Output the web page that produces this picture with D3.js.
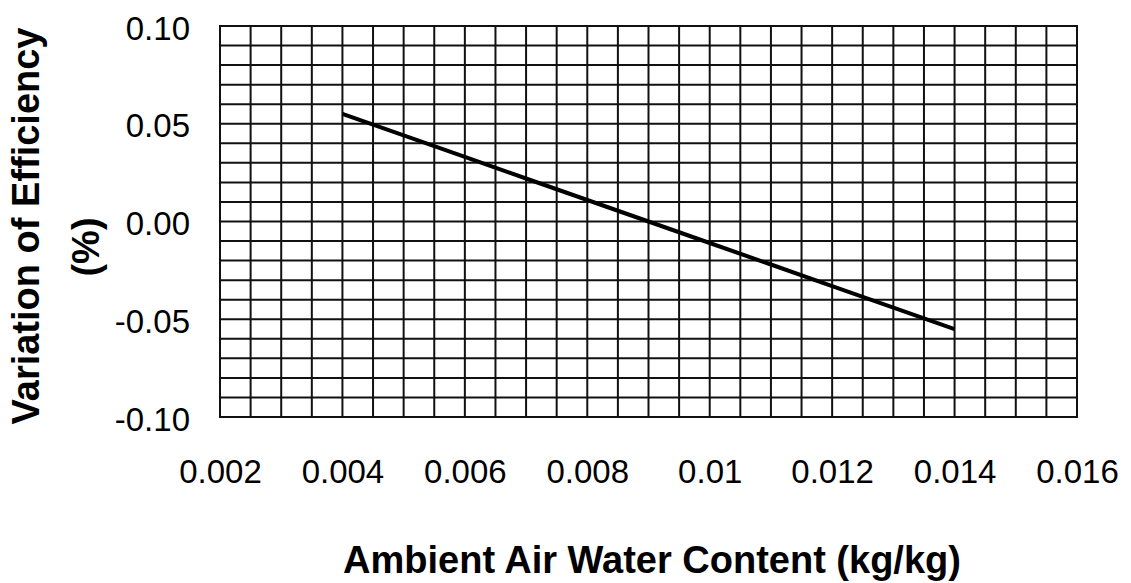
<!DOCTYPE html>
<html>
<head>
<meta charset="utf-8">
<script src="https://cdn.jsdelivr.net/npm/d3@7"></script>
<style>
  html, body { margin: 0; padding: 0; background: #fff; }
  svg { display: block; font-family: "Liberation Sans", Arial, sans-serif; }
</style>
</head>
<body>
<svg id="chart" width="1131" height="583"></svg>
<script>
// Water content of ambient air (kg/kg) and resulting efficiency variation (%)
const waterContent = [0.004, 0.005, 0.006, 0.007, 0.008, 0.009, 0.010, 0.011, 0.012, 0.013, 0.014];
const efficiencyVariation = [0.055, 0.044, 0.033, 0.022, 0.011, 0.000, -0.011, -0.022, -0.033, -0.044, -0.055];

const xTickValues = [0.002, 0.004, 0.006, 0.008, 0.010, 0.012, 0.014, 0.016];
const xTickLabels = ["0.002", "0.004", "0.006", "0.008", "0.01", "0.012", "0.014", "0.016"];
const yTickValues = [0.10, 0.05, 0.00, -0.05, -0.10];
const yTickLabels = ["0.10", "0.05", "0.00", "-0.05", "-0.10"];

const xTitle = "Ambient Air Water Content (kg/kg)";
const yTitleLines = ["Variation of Efficiency", "(%)"];

const svg = d3.select("#chart");
const plot = { left: 220, right: 1077, top: 26, bottom: 417 };
const font = "'Liberation Sans', Arial, sans-serif";

const x = d3.scaleLinear().domain([0.002, 0.016]).range([plot.left, plot.right]);
const y = d3.scaleLinear().domain([-0.10, 0.10]).range([plot.bottom, plot.top]);

// Grid: vertical every 0.0005, horizontal every 0.01
const xGrid = d3.range(0, 29).map(i => 0.002 + i * 0.0005);
const yGrid = d3.range(0, 21).map(i => -0.10 + i * 0.01);

const grid = svg.append("g").attr("stroke", "#111").attr("stroke-width", 2);
grid.selectAll("line.v").data(xGrid).join("line")
  .attr("class", "v")
  .attr("x1", d => x(d)).attr("x2", d => x(d))
  .attr("y1", plot.top - 1).attr("y2", plot.bottom + 1);
grid.selectAll("line.h").data(yGrid).join("line")
  .attr("class", "h")
  .attr("x1", plot.left - 1).attr("x2", plot.right + 1)
  .attr("y1", d => y(d)).attr("y2", d => y(d));

// Axes (labels only; the grid already frames the plot)
const xAxis = d3.axisBottom(x).tickValues(xTickValues)
  .tickFormat((d, i) => xTickLabels[i]).tickSize(0).tickPadding(0);
const gx = svg.append("g").attr("transform", `translate(0, ${plot.bottom})`).call(xAxis);
gx.select(".domain").remove();
gx.selectAll("text")
  .attr("dy", null).attr("y", 66)
  .attr("font-size", 33).attr("fill", "#000").attr("font-family", font);

const yAxis = d3.axisLeft(y).tickValues(yTickValues)
  .tickFormat((d, i) => yTickLabels[i]).tickSize(0).tickPadding(0);
const gy = svg.append("g").attr("transform", `translate(${plot.left - 30}, 0)`).call(yAxis);
gy.select(".domain").remove();
gy.selectAll("text")
  .attr("dy", null).attr("y", 13)
  .attr("font-size", 33).attr("fill", "#000").attr("font-family", font);

// Data line
const line = d3.line().x((d, i) => x(waterContent[i])).y(d => y(d));
svg.append("path")
  .datum(efficiencyVariation)
  .attr("d", line)
  .attr("fill", "none")
  .attr("stroke", "#000")
  .attr("stroke-width", 4);

// Axis titles
svg.append("text")
  .attr("x", 652).attr("y", 573)
  .attr("text-anchor", "middle")
  .attr("font-size", 38).attr("font-weight", "bold")
  .text(xTitle);

svg.append("text")
  .attr("transform", "translate(39, 226) rotate(-90)")
  .attr("text-anchor", "middle")
  .attr("font-size", 38).attr("font-weight", "bold")
  .text(yTitleLines[0]);
svg.append("text")
  .attr("transform", "translate(99, 247) rotate(-90)")
  .attr("text-anchor", "middle")
  .attr("font-size", 38).attr("font-weight", "bold")
  .text(yTitleLines[1]);
</script>
</body>
</html>
